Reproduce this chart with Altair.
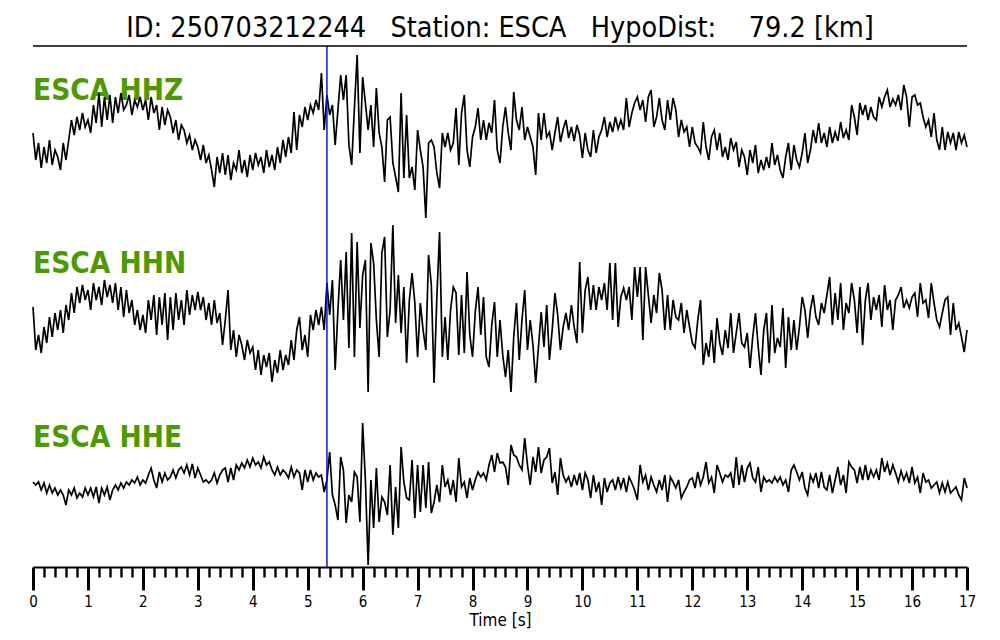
import altair as alt
import pandas as pd

# ---------------- data ----------------
STATION = "ESCA"
EVENT_ID = "250703212244"
HYPO_DIST_KM = 79.2
CHANNELS = ["HHZ", "HHN", "HHE"]
PICK_TIME_S = 5.35
SAMPLE_DT = 0.05  # s between samples
T_MAX = 17
MINOR_STEP = 0.2
MAJOR_TICKS = list(range(0, 18))

HHZ = [
    2, -25, -8, -33, -12, -28, -5, -30, -15, -22,
    -35, -8, -25, -5, 15, 0, 18, 5, 22, 8,
    15, 2, 30, 12, 42, 8, 38, 15, 40, 12,
    38, 22, 42, 25, 30, 40, 20, 35, 28, 38,
    25, 35, 15, 38, 22, 30, 5, 28, 10, 25,
    18, 2, 15, -5, 10, 5, -8, 0, -15, -5,
    -12, -25, -10, -28, -20, -35, -52, -22, -38, -18,
    -40, -20, -45, -28, -35, -15, -38, -25, -42, -20,
    -35, -18, -30, -22, -38, -15, -32, -20, -35, -12,
    -28, -5, -22, -2, -18, 23, -15, 20, 8, 28,
    15, 30, 22, 35, 25, 62, 5, 40, 20, 30,
    -10, 25, 60, 35, 60, -10, -30, 27, 80, -18,
    58, 32, 5, 30, -12, 47, 2, -12, -47, 15,
    18, -28, -42, -57, 42, -43, 20, -43, -32, -55,
    5, -15, -32, -83, -8, -5, -12, -38, -53, 2,
    -12, 2, -15, -8, 27, -30, 22, 40, -15, -32,
    -2, 8, 27, -5, 15, -5, 12, 2, 35, -15,
    -28, 8, 28, 2, -15, 43, 15, 5, 28, -5,
    8, -2, -12, -40, 22, -5, 22, -2, 3, -15,
    2, 18, -7, 6, 15, -3, 8, -6, 10, 0,
    -23, 2, -15, -22, 5, -18, -2, 5, 18, -2,
    13, 3, 18, 6, 15, 5, 37, 8, 22, 32,
    38, 25, 35, 13, 38, 45, 8, 18, 37, 15,
    5, 35, 15, 37, 25, -2, 15, 3, 8, -12,
    8, -8, -12, -18, 13, -12, -25, -2, 5, -15,
    2, -22, -12, -25, -3, -15, -7, -32, -15, -22,
    -40, -15, -28, -10, -38, -25, -35, -22, -33, -8,
    -30, -20, -35, -43, -22, -8, -35, -10, -25, -32,
    -18, 2, -28, -15, 5, -8, 12, -8, 2, -12,
    8, -8, 3, -6, 13, -3, 5, -5, 30, 18,
    0, 32, 20, 30, 15, 28, 18, 15, 38, 28,
    38, 45, 28, 36, 30, 40, 25, 50, 38, 8,
    38, 40, 30, 32, 18, 8, 15, -2, 22, -5,
    -15, 8, -15, 3, -8, 2, -15, 3, -8, 0,
    -12,
]

HHN = [
    -2, -45, -30, -48, -22, -38, -12, -32, -8, -25,
    -5, -28, 0, -15, 12, -8, 18, 2, 20, 5,
    15, -5, 22, 5, 18, 0, 25, 8, 20, 2,
    22, -5, 18, -12, 15, -8, 5, -20, -5, -25,
    -10, -28, 5, -15, 10, -30, 8, -20, 12, -35,
    8, -25, 12, -15, 5, -20, 15, -10, 10, -5,
    13, -5, 8, -15, 2, -20, 5, -18, -8, -40,
    -15, 15, -45, -25, -52, -30, -40, -55, -35, -48,
    -42, -65, -45, -70, -50, -62, -48, -77, -55, -68,
    -45, -65, -50, -60, -35, -55, -25, -12, -45, -30,
    -52, -10, -25, -5, -20, -2, -25, 22, -10, 25,
    -65, -5, 45, -15, 53, -43, 72, -52, 63, -23,
    30, 45, -87, 62, 42, -15, -52, 52, 68, -32,
    -5, 80, -18, 30, -28, 18, -58, 5, 32, 2,
    -52, 2, -25, -45, 50, 20, -78, 7, 73, -52,
    -12, -55, -5, 18, 12, -50, 10, -48, 33, -30,
    -52, -7, 18, -30, 8, -52, -62, -20, 3, -52,
    -15, -50, -72, -45, -87, -32, 2, -55, -15, 15,
    -45, -15, -40, -78, -42, -7, -42, 0, -55, -25,
    12, -10, -45, -22, -8, -25, 0, -22, -38, 43,
    -28, 15, 28, -5, 20, -5, 18, 5, 22, -5,
    42, -15, 42, -22, 8, 17, 5, 18, -15, 38,
    8, 38, -35, 38, 10, -18, 10, -8, 32, 15,
    -25, 10, -25, 5, -12, -15, 2, -28, -5, -22,
    -38, -43, -15, 5, -60, -38, -52, -25, -58, -13,
    -38, -50, -25, -43, -8, -48, -28, -8, -38, -42,
    -28, -63, -32, -8, -42, -70, -25, -8, -58, 0,
    -48, -33, -42, -3, -63, -12, -45, -15, -45, -22,
    8, -5, -33, -5, 10, -12, -20, 2, -8, 10,
    28, -20, 12, -15, 22, -25, 2, -8, 22, 5,
    -28, 18, -40, 5, 22, -15, 8, -5, 10, -22,
    20, -5, 5, -25, 5, 10, 18, -3, 5, -3,
    8, 12, -12, 22, 2, 5, -13, 22, 2, -15,
    -22, -8, 5, 8, -30, 2, -25, -18, -32, -47,
    -25,
]

HHE = [
    3, 0, 3, -5, 2, -8, 0, -8, -3, -10,
    -5, -10, -20, -5, -10, -3, -13, -8, -12, -3,
    -10, -3, -12, -2, -18, -3, -10, -2, -15, -5,
    0, -5, 2, -3, 3, 0, 5, 2, 8, 0,
    5, 2, 10, 17, 5, -3, 13, 3, 12, 5,
    8, 15, 7, 15, 18, 12, 20, 10, 21, 7,
    17, 10, 3, 5, 2, 5, 12, 2, 10, 15,
    17, 3, 17, 5, 20, 15, 22, 17, 25, 18,
    27, 20, 23, 17, 28, 20, 23, 15, 10, 18,
    10, 15, 12, 7, 18, 8, 15, 12, -5, 15,
    3, 15, 5, 12, 8, 10, -7, 5, 33, -10,
    -20, -35, 28, 15, -38, -10, -17, 13, 8, -37,
    62, 5, -80, 5, -43, 17, -37, -12, -17, -30,
    20, -50, -2, -43, 38, 3, -13, -15, 25, -33,
    20, -27, 20, -23, 23, -28, -17, 0, -17, 20,
    -2, 5, -10, 5, -17, 27, -2, 3, -13, 7,
    -5, 5, 13, 8, 12, 5, 20, 30, 13, 32,
    22, 23, 18, 0, 40, 30, 28, 20, 15, 47,
    20, 0, 28, 13, 38, 12, 25, 28, 37, 2,
    13, -10, 27, 10, 3, 8, -2, 10, 0, 12,
    -5, 12, 5, -13, 10, -7, 3, -20, 7, -7,
    2, 5, -5, 8, -3, 7, -7, 8, 2, -5,
    -15, 20, 3, 10, -5, 8, 0, -7, 5, -5,
    10, -17, 8, 3, -3, 5, -13, -7, -2, 5,
    7, -3, 13, 0, 8, 23, 2, 8, -8, 20,
    12, 3, 10, 8, 12, -3, 28, 0, 20, 3,
    17, 22, 7, 3, 18, -7, 8, 3, 5, 2,
    8, 3, 8, 0, 5, -7, 15, 20, 13, 5,
    13, -3, -10, 10, 3, 12, -3, 13, -2, -5,
    10, -8, 5, 18, 0, 10, -8, 23, 18, 15,
    2, 18, 5, 20, 5, 15, 8, 15, 5, 27,
    13, 22, 10, 20, 12, 3, 14, 5, 12, 2,
    18, 2, 8, -8, 12, 3, 5, -3, 0, 3,
    -8, 2, -7, 3, -8, -5, -2, -10, -15, 7,
    -3,
]

# ---------------- table ----------------
rows = []
for ch, vals in zip(CHANNELS, [HHZ, HHN, HHE]):
    for i, v in enumerate(vals):
        rows.append({"t": round(i * SAMPLE_DT, 2), "amp": v, "ch": ch})
df = pd.DataFrame(rows)

W, H = 934, 521
FONT = "DejaVu Sans Condensed, DejaVu Sans"
GREEN = "#4c9900"

tick_values = [round(i * MINOR_STEP, 1) for i in range(int(T_MAX / MINOR_STEP) + 1)]
is_minor = "datum.value % 1 !== 0"

x_scale = alt.Scale(domain=[0, T_MAX], nice=False, zero=False)
y_scale = alt.Scale(domain=[0, H], nice=False, zero=False)

x_axis = alt.Axis(
    values=tick_values,
    tickSize={"condition": {"test": is_minor, "value": 10}, "value": 23},
    tickWidth={"condition": {"test": is_minor, "value": 2.4}, "value": 3},
    tickColor="black",
    domainColor="black",
    domainWidth=2,
    labelExpr="datum.value % 1 === 0 ? format(datum.value, 'd') : ''",
    labelFont=FONT,
    labelFontSize=15,
    labelColor="black",
    labelPadding=4,
    labelFlush=False,
    labelOverlap=False,
    title="Time [s]",
    titleFont=FONT,
    titleFontSize=17,
    titleFontWeight="normal",
    titleColor="black",
    titlePadding=3,
    grid=False,
)

traces = (
    alt.Chart(df)
    .transform_calculate(
        y="datum.amp + (datum.ch === 'HHZ' ? 432 : (datum.ch === 'HHN' ? 262 : 82))"
    )
    .mark_line(color="black", strokeWidth=1.7)
    .encode(
        x=alt.X("t:Q", scale=x_scale, axis=x_axis),
        y=alt.Y("y:Q", scale=y_scale, axis=None),
        detail="ch:N",
    )
)

label_y = {"HHZ": 45, "HHN": 218, "HHE": 392}
labels = [
    alt.Chart(pd.DataFrame({"label": [f"{STATION} {ch}"]}))
    .mark_text(
        align="left", baseline="middle", font=FONT, fontSize=29.5,
        fontWeight="bold", color=GREEN,
    )
    .encode(text="label:N", x=alt.value(0), y=alt.value(label_y[ch]))
    for ch in CHANNELS
]

nb = "\u00a0"
title_text = (
    f"ID: {EVENT_ID}{nb*3}Station: {STATION}{nb*3}HypoDist:{nb*4}{HYPO_DIST_KM} [km]"
)
title = (
    alt.Chart(pd.DataFrame({"title": [title_text]}))
    .mark_text(align="center", baseline="middle", font=FONT, fontSize=28.5, color="black")
    .encode(text="title:N", x=alt.value(W / 2), y=alt.value(-18))
)

top_rule = (
    alt.Chart(pd.DataFrame({"k": [0]}))
    .mark_rule(color="black", strokeWidth=1.5)
    .encode(x=alt.value(0), x2=alt.value(W), y=alt.value(0))
)

pick = (
    alt.Chart(pd.DataFrame({"t": [PICK_TIME_S]}))
    .mark_rule(color="#1010e0", strokeWidth=1.5)
    .encode(x=alt.X("t:Q", scale=x_scale, axis=x_axis), y=alt.value(0), y2=alt.value(H))
)

chart = (
    alt.layer(*labels, traces, pick, top_rule, title)
    .properties(
        width=W,
        height=H,
        autosize=alt.AutoSizeParams(type="none"),
        padding={"left": 25, "top": 38, "right": 25, "bottom": 70},
    )
    .configure_view(stroke=None)
)

chart.save("out.html", embed_options={"renderer": "svg", "actions": False})
